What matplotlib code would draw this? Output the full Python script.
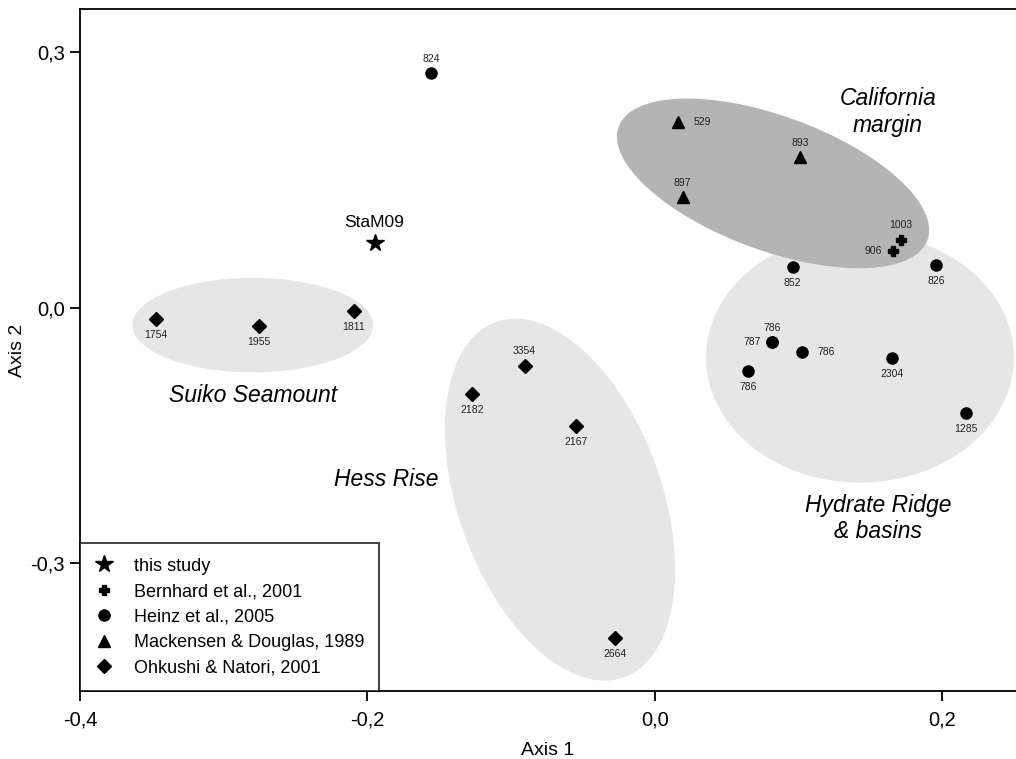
import matplotlib
matplotlib.use('Agg')
import matplotlib.pyplot as plt
from matplotlib.patches import Ellipse
from matplotlib.ticker import FuncFormatter

plt.rcParams['font.family'] = ['Liberation Sans', 'DejaVu Sans']

# ordination scores (axis 1, axis 2) and station depths per source
study_x = [-0.195]
study_y = [0.0755]
study_lab = ['StaM09']

bern_x = [0.1714, 0.1661]
bern_y = [0.0795, 0.0669]
bern_lab = ['1003', '906']
bern_pos = ['above', 'left']

heinz_x = [-0.1555, 0.0961, 0.1958, 0.0819, 0.0819, 0.1025, 0.0647, 0.1652, 0.2169]
heinz_y = [0.2751, 0.0481, 0.0497, -0.0407, -0.0407, -0.0520, -0.0743, -0.0595, -0.1241]
heinz_lab = ['824', '852', '826', '786', '787', '786', '786', '2304', '1285']
heinz_pos = ['above', 'below', 'below', 'above', 'left', 'right', 'below', 'below', 'below']

mack_x = [0.0165, 0.1011, 0.0195]
mack_y = [0.2184, 0.1765, 0.1295]
mack_lab = ['529', '893', '897']
mack_pos = ['right', 'above', 'above']

ohk_x = [-0.3473, -0.2752, -0.2093, -0.0905, -0.1270, -0.0550, -0.0274]
ohk_y = [-0.0137, -0.0220, -0.0035, -0.0681, -0.1016, -0.1395, -0.3876]
ohk_lab = ['1754', '1955', '1811', '3354', '2182', '2167', '2664']
ohk_pos = ['below', 'below', 'below', 'above', 'below', 'below', 'below']

# grouping ellipses: centre, width, height, angle, fill
groups = [
    ((0.1429, -0.0587), 0.2144, 0.2935, 0, '#e6e6e6'),     # Hydrate Ridge
    ((0.0824, 0.1458), 0.260, 0.139, -40.5, '#b4b4b4'),    # California margin
    ((-0.2797, -0.0205), 0.1677, 0.1108, 0, '#e6e6e6'),    # Suiko Seamount
    ((-0.0659, -0.2254), 0.430, 0.146, 99.4, '#e6e6e6'),   # Hess Rise
]

fig = plt.figure(figsize=(10.16, 7.59), dpi=100)
ax = fig.add_axes([80 / 1016, 68 / 759, 936 / 1016, 682 / 759])

for (c, w, h, a, col) in groups:
    ax.add_patch(Ellipse(c, w, h, angle=a, facecolor=col, edgecolor='none', zorder=1))

ax.plot(study_x, study_y, '*', color='k', ms=13, ls='none', label='this study', zorder=3)
ax.plot(bern_x, bern_y, 'P', color='k', ms=7, ls='none', label='Bernhard et al., 2001', zorder=3)
ax.plot(heinz_x, heinz_y, 'o', color='k', ms=8, ls='none', label='Heinz et al., 2005', zorder=3)
ax.plot(mack_x, mack_y, '^', color='k', ms=8, ls='none', label='Mackensen & Douglas, 1989', zorder=3)
ax.plot(ohk_x, ohk_y, 'D', color='k', ms=7, ls='none', label='Ohkushi & Natori, 2001', zorder=3)

offsets = {'above': ((0, 10.5), 'center', 'center'),
           'below': ((0, -11.5), 'center', 'center'),
           'left': ((-8, 0), 'right', 'center'),
           'right': ((11, 0), 'left', 'center')}

for xs, ys, labs, pos in [(bern_x, bern_y, bern_lab, bern_pos),
                          (heinz_x, heinz_y, heinz_lab, heinz_pos),
                          (mack_x, mack_y, mack_lab, mack_pos),
                          (ohk_x, ohk_y, ohk_lab, ohk_pos)]:
    for x, y, t, p in zip(xs, ys, labs, pos):
        off, ha, va = offsets[p]
        ax.annotate(t, (x, y), xytext=off, textcoords='offset points',
                    ha=ha, va=va, fontsize=7.5, color='#222222', zorder=4)

ax.annotate(study_lab[0], (study_x[0], study_y[0]), xytext=(0, 15), textcoords='offset points',
            ha='center', va='center', fontsize=12.5, zorder=4)

# region names
ax.text(0.1624, 0.2295, 'California\nmargin', style='italic', fontsize=16.5,
        ha='center', va='center', linespacing=1.2)
ax.text(0.1557, -0.2477, 'Hydrate Ridge\n& basins', style='italic', fontsize=16.5,
        ha='center', va='center', linespacing=1.15)
ax.text(-0.2795, -0.1033, 'Suiko Seamount', style='italic', fontsize=16.5, ha='center', va='center')
ax.text(-0.1865, -0.2023, 'Hess Rise', style='italic', fontsize=16.5, ha='center', va='center')

ax.set_xlim(-0.4, 0.2515)
ax.set_ylim(-0.45, 0.3505)
ax.set_xticks([-0.4, -0.2, 0.0, 0.2])
ax.set_yticks([-0.3, 0.0, 0.3])
comma = FuncFormatter(lambda v, p: ('%.1f' % v).replace('.', ','))
ax.xaxis.set_major_formatter(comma)
ax.yaxis.set_major_formatter(comma)
ax.tick_params(direction='out', length=7, width=1.3, labelsize=14.5)
ax.tick_params(axis='x', pad=7)
ax.tick_params(axis='y', pad=4)
for s in ['left', 'bottom', 'top']:
    ax.spines[s].set_linewidth(1.3)
ax.spines['right'].set_visible(False)

ax.set_xlabel('Axis 1', fontsize=14, labelpad=9)
ax.set_ylabel('Axis 2', fontsize=14, labelpad=3)

leg = ax.legend(loc='lower left', fontsize=13, frameon=True, fancybox=False,
                edgecolor='k', borderaxespad=0, handlelength=1.1, handletextpad=1.1,
                labelspacing=0.47, borderpad=0.8, numpoints=1)
leg.get_frame().set_linewidth(1.3)
leg.set_zorder(5)

fig.savefig('out.png', dpi=100)
